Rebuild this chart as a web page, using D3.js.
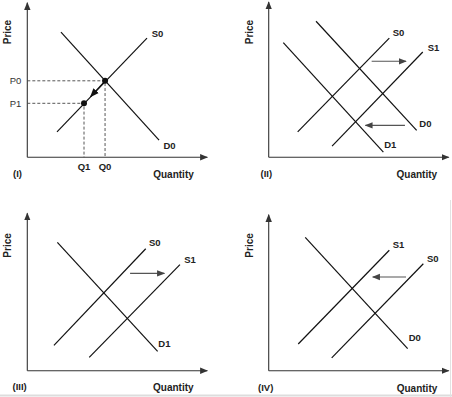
<!DOCTYPE html>
<html>
<head>
<meta charset="utf-8">
<script src="https://cdn.jsdelivr.net/npm/d3@7"></script>
<style>
  body { margin: 0; background: #fff; }
  svg text { font-family: "Liberation Sans", Arial, sans-serif; }
</style>
</head>
<body>
<svg id="chart"></svg>
<script>
// Panel identifiers and labels
const panelIds = ["I", "II", "III", "IV"];

// Curves per panel, in chart units (quantity 0-100, price 0-100)
// [name, start point, end point, label position]
const curvesI = [
  ["D0", [18.7, 83.5], [73.2, 11.5], [75.6, 5.5]],
  ["S0", [16.5, 16.9], [66.5, 79.5], [69.1, 80.5]]
];
const curvesII = [
  ["D0", [26.3, 90.7], [82.2, 18.0], [83.7, 20.1]],
  ["D1", [8.1, 76.5], [63.7, 3.5], [64.2, 6.3]],
  ["S0", [16.1, 16.9], [67.0, 79.5], [68.9, 81.0]],
  ["S1", [35.2, 7.5], [85.6, 70.2], [88.3, 71.0]]
];
const curvesIII = [
  ["D1", [16.7, 85.6], [72.4, 12.9], [72.8, 15.8]],
  ["S0", [14.8, 16.9], [65.8, 81.3], [67.6, 83.3]],
  ["S1", [34.4, 8.9], [84.8, 70.7], [87.2, 71.7]]
];
const curvesIV = [
  ["D0", [20.3, 88.9], [77.2, 14.7], [77.8, 19.5]],
  ["S1", [16.4, 17.8], [67.0, 80.3], [68.9, 81.7]],
  ["S0", [35.0, 8.5], [85.9, 71.3], [87.9, 72.3]]
];

// Shift arrows (gray) per panel: [from, to]
const shiftsI = [];
const shiftsII = [
  [[57.2, 64.0], [76.3, 64.0]],
  [[75.7, 21.3], [53.7, 21.3]]
];
const shiftsIII = [
  [[57.1, 64.9], [76.1, 64.9]]
];
const shiftsIV = [
  [[76.3, 62.5], [57.8, 62.5]]
];

// Equilibrium points in panel I
const eqPoints = [
  { p: "P0", q: "Q0", x: 43.2, y: 51.0 },
  { p: "P1", q: "Q1", x: 31.5, y: 36.0 }
];
// movement along S0 in panel I
const moveI = [[43.2, 51.0], [35.2, 40.4]];

const curves = [curvesI, curvesII, curvesIII, curvesIV];
const shifts = [shiftsI, shiftsII, shiftsIII, shiftsIV];

// axis corners of the four panels
const origins = [
  { x: 27.3, y: 157.3, top: 103, label: [13, 176.5], qx: 173.5, ty: 177.5 },
  { x: 268.7, y: 157.3, top: 103.5, label: [260.5, 176.5], qx: 416.8, ty: 177.5 },
  { x: 27.3, y: 370.7, top: 105, label: [12.5, 390], qx: 173.3, ty: 391 },
  { x: 268.7, y: 370.7, top: 104, label: [258, 391], qx: 417, ty: 391.5 }
];

const width = 452, height = 397;
const svg = d3.select("#chart").attr("width", width).attr("height", height);

const defs = svg.append("defs");
function marker(id, color, size) {
  defs.append("marker")
    .attr("id", id)
    .attr("viewBox", "0 0 10 10")
    .attr("refX", 9).attr("refY", 5)
    .attr("markerWidth", size).attr("markerHeight", size)
    .attr("markerUnits", "userSpaceOnUse")
    .attr("orient", "auto")
    .append("path")
    .attr("d", "M0,1 L10,5 L0,9 Z")
    .attr("fill", color);
}
marker("axisHead", "#333", 8);
marker("shiftHead", "#444", 8);
marker("moveHead", "#111", 9);

// faint frame lines of the scanned figure
svg.append("line").attr("x1", 0).attr("x2", width).attr("y1", 395.5).attr("y2", 395.5)
  .attr("stroke", "#ddd").attr("stroke-width", 2);
svg.append("line").attr("x1", 450.5).attr("x2", 450.5).attr("y1", 200).attr("y2", 397)
  .attr("stroke", "#e2e2e2").attr("stroke-width", 1);

panelIds.forEach((id, i) => {
  const o = origins[i];
  const x = d3.scaleLinear().domain([0, 100]).range([o.x, o.x + 180]);
  const y = d3.scaleLinear().domain([0, 100]).range([o.y, o.y - 150]);
  const g = svg.append("g");

  const line = d3.line().x(d => x(d[0])).y(d => y(d[1]));

  // axes
  g.append("path")
    .attr("d", line([[0, 0], [0, o.top]]))
    .attr("stroke", "#333").attr("stroke-width", 1.1).attr("fill", "none")
    .attr("marker-end", "url(#axisHead)");
  g.append("path")
    .attr("d", line([[0, 0], [100, 0]]))
    .attr("stroke", "#333").attr("stroke-width", 1.1).attr("fill", "none")
    .attr("marker-end", "url(#axisHead)");

  // axis titles
  g.append("text")
    .attr("transform", `translate(${o.x - 19.5},${y(83.5)}) rotate(-90)`)
    .attr("text-anchor", "middle")
    .attr("dy", "0.35em")
    .style("font-size", "10px").style("font-weight", "bold").attr("fill", "#222")
    .text("Price");
  g.append("text")
    .attr("x", o.qx).attr("y", o.ty)
    .attr("text-anchor", "middle")
    .style("font-size", "10px").style("font-weight", "bold").attr("fill", "#222")
    .text("Quantity");
  g.append("text")
    .attr("x", o.label[0]).attr("y", o.label[1])
    .style("font-size", "9.5px").style("font-weight", "bold").attr("fill", "#222")
    .text(`(${id})`);

  // curves
  curves[i].forEach(([name, a, b, lab]) => {
    g.append("path")
      .attr("d", line([a, b]))
      .attr("stroke", "#111").attr("stroke-width", 1.2).attr("fill", "none");
    g.append("text")
      .attr("x", x(lab[0])).attr("y", y(lab[1]))
      .style("font-size", "9.5px").style("font-weight", "bold").attr("fill", "#222")
      .text(name);
  });

  // shift arrows
  shifts[i].forEach(([a, b]) => {
    g.append("path")
      .attr("d", line([a, b]))
      .attr("stroke", "#555").attr("stroke-width", 1.1).attr("fill", "none")
      .attr("marker-end", "url(#shiftHead)");
  });

  if (id === "I") {
    eqPoints.forEach(d => {
      g.append("path")
        .attr("d", line([[0, d.y], [d.x, d.y], [d.x, 0]]))
        .attr("stroke", "#444").attr("stroke-width", 0.9)
        .attr("stroke-dasharray", "3,2").attr("fill", "none");
      g.append("text")
        .attr("x", x(0) - 6).attr("y", y(d.y))
        .attr("dy", "0.35em").attr("text-anchor", "end")
        .style("font-size", "9.5px").attr("fill", "#333")
        .text(d.p);
      g.append("text")
        .attr("x", x(d.x)).attr("y", o.y + 12.5)
        .attr("text-anchor", "middle")
        .style("font-size", "9.5px").style("font-weight", "bold").attr("fill", "#222")
        .text(d.q);
    });
    g.append("path")
      .attr("d", line(moveI))
      .attr("stroke", "#111").attr("stroke-width", 1.2).attr("fill", "none")
      .attr("marker-end", "url(#moveHead)");
    g.selectAll("circle.pt")
      .data(eqPoints)
      .enter()
      .append("circle")
      .attr("class", "pt")
      .attr("cx", d => x(d.x)).attr("cy", d => y(d.y))
      .attr("r", 3)
      .attr("fill", "#111");
  }
});
</script>
</body>
</html>
